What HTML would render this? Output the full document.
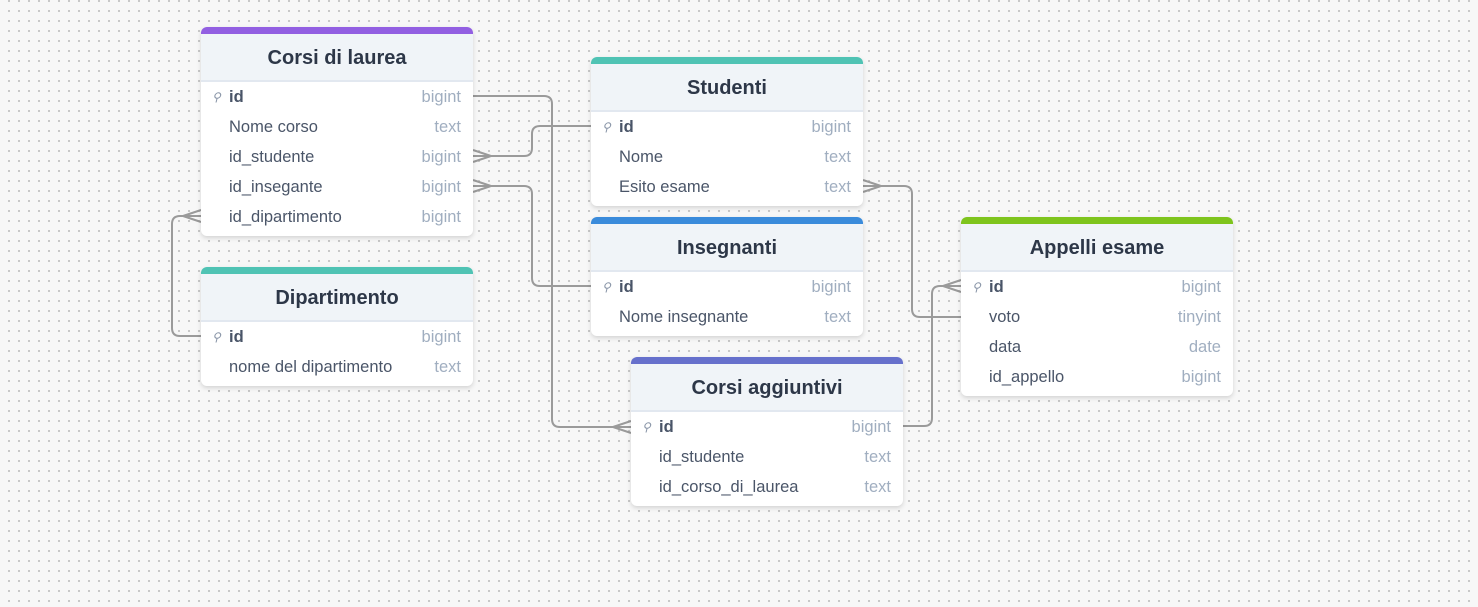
<!DOCTYPE html>
<html><head><meta charset="utf-8"><style>
body{margin:0;width:1478px;height:607px;overflow:hidden;background-color:#f7f7f7;background-image:radial-gradient(circle,#c4c4c4 1px,transparent 1.2px);background-size:10px 10px;background-position:4px 6px;font-family:"Liberation Sans",sans-serif;position:relative}
.t{position:absolute;width:272px;background:#fff;border-radius:6px;box-shadow:0 2px 5px rgba(0,0,0,.15);overflow:hidden;padding-bottom:4px}
.bar{height:7px}
.h{height:46px;background:#f0f4f8;border-bottom:2px solid #e2e8f0;text-align:center;line-height:49px;font-weight:bold;font-size:20px;color:#2d3748}
.r{height:30px;line-height:30px;font-size:16.5px;color:#4a5568;padding-left:28px;padding-right:12px;position:relative}
.r span{float:right;color:#a0aec0}
.r b{color:#4a5568}
.k{position:absolute;left:11px;top:0;font-size:12px;color:#8a96a8}
svg{position:absolute;left:0;top:0}
</style></head><body>
<svg width="1478" height="607" fill="none" stroke="#9a9a9a" stroke-width="2">
<path d="M473,96 H544 q8,0 8,8 V419 q0,8 8,8 H631 M613,427 L631,421 M613,427 L631,433"/>
<path d="M591,126 H540 q-8,0 -8,8 V148 q0,8 -8,8 H473 M491,156 L473,150 M491,156 L473,162"/>
<path d="M473,186 H524 q8,0 8,8 V278 q0,8 8,8 H591 M491,186 L473,180 M491,186 L473,192"/>
<path d="M201,336 H180 q-8,0 -8,-8 V224 q0,-8 8,-8 H201 M183,216 L201,210 M183,216 L201,222"/>
<path d="M863,186 H904 q8,0 8,8 V309 q0,8 8,8 H961 M881,186 L863,180 M881,186 L863,192"/>
<path d="M903,426 H924 q8,0 8,-8 V294 q0,-8 8,-8 H961 M943,286 L961,280 M943,286 L961,292"/>
</svg>
<div class="t" style="left:201px;top:27px"><div class="bar" style="background:#925fe2"></div><div class="h">Corsi di laurea</div>
<div class="r"><i class="k">⚲</i><b>id</b><span>bigint</span></div><div class="r">Nome corso<span>text</span></div><div class="r">id_studente<span>bigint</span></div><div class="r">id_insegante<span>bigint</span></div><div class="r">id_dipartimento<span>bigint</span></div></div>
<div class="t" style="left:591px;top:57px"><div class="bar" style="background:#4fc3b4"></div><div class="h">Studenti</div>
<div class="r"><i class="k">⚲</i><b>id</b><span>bigint</span></div><div class="r">Nome<span>text</span></div><div class="r">Esito esame<span>text</span></div></div>
<div class="t" style="left:591px;top:217px"><div class="bar" style="background:#3a8bdb"></div><div class="h">Insegnanti</div>
<div class="r"><i class="k">⚲</i><b>id</b><span>bigint</span></div><div class="r">Nome insegnante<span>text</span></div></div>
<div class="t" style="left:201px;top:267px"><div class="bar" style="background:#4fc3b4"></div><div class="h">Dipartimento</div>
<div class="r"><i class="k">⚲</i><b>id</b><span>bigint</span></div><div class="r">nome del dipartimento<span>text</span></div></div>
<div class="t" style="left:631px;top:357px"><div class="bar" style="background:#6670cc"></div><div class="h">Corsi aggiuntivi</div>
<div class="r"><i class="k">⚲</i><b>id</b><span>bigint</span></div><div class="r">id_studente<span>text</span></div><div class="r">id_corso_di_laurea<span>text</span></div></div>
<div class="t" style="left:961px;top:217px"><div class="bar" style="background:#7ec41d"></div><div class="h">Appelli esame</div>
<div class="r"><i class="k">⚲</i><b>id</b><span>bigint</span></div><div class="r">voto<span>tinyint</span></div><div class="r">data<span>date</span></div><div class="r">id_appello<span>bigint</span></div></div>
</body></html>
